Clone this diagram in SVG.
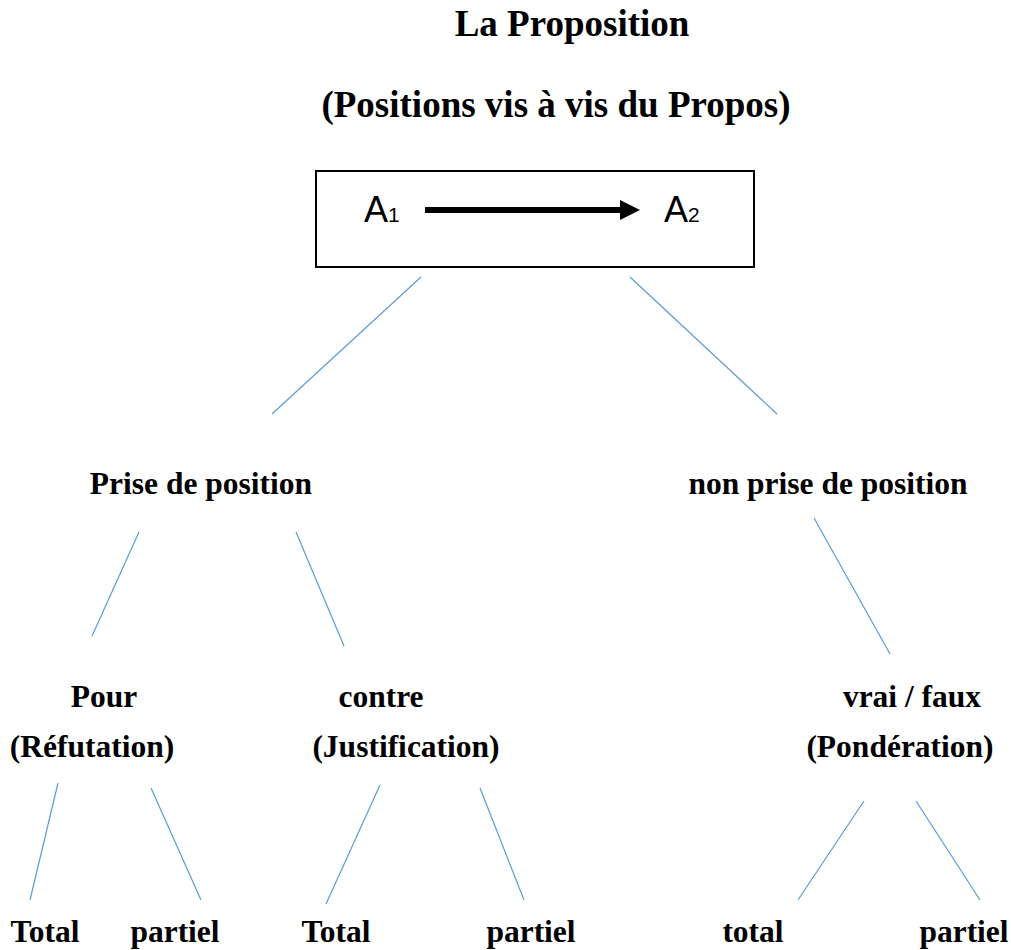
<svg xmlns="http://www.w3.org/2000/svg" width="1011" height="950" viewBox="0 0 1011 950">
<style>
.t{font-family:"Liberation Serif","Times New Roman",serif;font-weight:bold;fill:#000}
.title{font-size:37px}
.lbl{font-size:31.5px}
.a{font-family:"Liberation Sans",Arial,sans-serif;fill:#000;font-size:36px}
.sub{font-size:21px}
.c{stroke:#5B9BD5;stroke-width:1.2;fill:none}
</style>
<rect width="1011" height="950" fill="#fff"/>
<g id="title">
<text class="t title" x="572" y="36" text-anchor="middle">La Proposition</text>
<text class="t title" x="556" y="117" text-anchor="middle">(Positions vis à vis du Propos)</text>
</g>
<g id="box">
<rect x="316" y="171" width="438" height="96" fill="#fff" stroke="#000" stroke-width="2"/>
<text class="a" x="364" y="222">A<tspan class="sub">1</tspan></text>
<rect x="425" y="207" width="198" height="6" fill="#000"/>
<polygon points="620,200 640,210 620,220" fill="#000"/>
<text class="a" x="664" y="222">A<tspan class="sub">2</tspan></text>
</g>
<g id="connectors">
<line class="c" x1="421" y1="277" x2="272" y2="414"/>
<line class="c" x1="630" y1="277" x2="777" y2="414"/>
<line class="c" x1="139" y1="532" x2="92" y2="636"/>
<line class="c" x1="296" y1="532" x2="344" y2="646"/>
<line class="c" x1="814" y1="518" x2="890" y2="654"/>
<line class="c" x1="58" y1="783" x2="30" y2="900"/>
<line class="c" x1="151" y1="788" x2="201" y2="900"/>
<line class="c" x1="380" y1="785" x2="326" y2="904"/>
<line class="c" x1="480" y1="788" x2="524" y2="900"/>
<line class="c" x1="864" y1="801" x2="798" y2="900"/>
<line class="c" x1="916" y1="801" x2="980" y2="900"/>
</g>
<g id="prise"><text class="t lbl" x="201" y="494" text-anchor="middle">Prise de position</text></g>
<g id="nonprise"><text class="t lbl" x="828" y="494" text-anchor="middle">non prise de position</text></g>
<g id="pour">
<text class="t lbl" x="104" y="707" text-anchor="middle">Pour</text>
<text class="t lbl" x="92" y="757" text-anchor="middle">(Réfutation)</text>
</g>
<g id="contre">
<text class="t lbl" x="381" y="707" text-anchor="middle">contre</text>
<text class="t lbl" x="406" y="757" text-anchor="middle">(Justification)</text>
</g>
<g id="vraifaux">
<text class="t lbl" x="912" y="707" text-anchor="middle">vrai / faux</text>
<text class="t lbl" x="900" y="757" text-anchor="middle">(Pondération)</text>
</g>
<g id="leaf1"><text class="t lbl" x="45" y="942" text-anchor="middle">Total</text></g>
<g id="leaf2"><text class="t lbl" x="175" y="942" text-anchor="middle">partiel</text></g>
<g id="leaf3"><text class="t lbl" x="336" y="942" text-anchor="middle">Total</text></g>
<g id="leaf4"><text class="t lbl" x="531" y="942" text-anchor="middle">partiel</text></g>
<g id="leaf5"><text class="t lbl" x="753" y="942" text-anchor="middle">total</text></g>
<g id="leaf6"><text class="t lbl" x="964" y="942" text-anchor="middle">partiel</text></g>
</svg>
